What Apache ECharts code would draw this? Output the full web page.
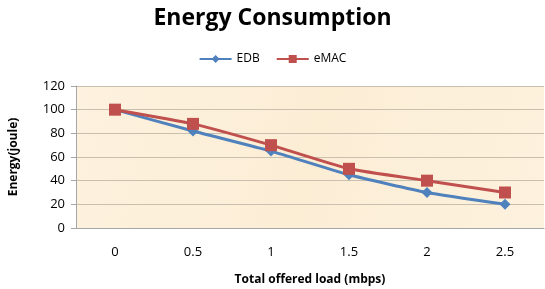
<!DOCTYPE html>
<html>
<head>
<meta charset="utf-8">
<script src="https://cdn.jsdelivr.net/npm/echarts@6/dist/echarts.min.js"></script>
<style>
html, body { margin: 0; padding: 0; background: #fff; }
#main { width: 545px; height: 289px; }
</style>
</head>
<body>
<div id="main"></div>
<script>
// categories and values
var loads = ['0', '0.5', '1', '1.5', '2', '2.5'];
var edb = [100, 82, 65, 45, 30, 20];
var emac = [100, 88, 70, 50, 40, 30];

var font = '"Open Sans", "Liberation Sans", sans-serif';
var myChart = echarts.init(document.getElementById('main'));
var option = {
	backgroundColor: '#fff',
	animation: false,
	title: {
		text: 'Energy Consumption',
		left: 'center',
		top: 2,
		textStyle: { fontFamily: font, fontSize: 23, fontWeight: 'bold', color: '#000' }
	},
	legend: {
		data: ['EDB', 'eMAC'],
		top: 48,
		left: 'center',
		itemWidth: 32,
		itemHeight: 10,
		itemGap: 16,
		textStyle: { fontFamily: font, fontSize: 12, color: '#000' }
	},
	grid: {
		left: 76, right: 1, top: 86, bottom: 61,
		show: true,
		borderWidth: 0,
		backgroundColor: new echarts.graphic.LinearGradient(0, 0, 1, 1, [
			{ offset: 0, color: '#fdf2df' },
			{ offset: 0.5, color: '#fcedd5' },
			{ offset: 1, color: '#fdf2de' }
		])
	},
	xAxis: {
		type: 'category',
		data: loads,
		name: 'Total offered load (mbps)',
		nameLocation: 'middle',
		nameGap: 46,
		nameTextStyle: { fontFamily: font, fontSize: 12, fontWeight: 'bold', color: '#000' },
		axisLine: { lineStyle: { color: '#a6a6a6' } },
		axisTick: { length: 5, lineStyle: { color: '#a6a6a6' } },
		axisLabel: { fontFamily: font, fontSize: 13, color: '#000', margin: 18 }
	},
	yAxis: {
		type: 'value',
		min: 0, max: 120, interval: 20,
		name: 'Energy(joule)',
		nameLocation: 'middle',
		nameGap: 56,
		nameTextStyle: { fontFamily: font, fontSize: 12, fontWeight: 'bold', color: '#000' },
		axisLine: { show: true, lineStyle: { color: '#a6a6a6' } },
		axisTick: { show: true, length: 5, lineStyle: { color: '#a6a6a6' } },
		axisLabel: { fontFamily: font, fontSize: 13, color: '#000', margin: 11 },
		splitLine: { lineStyle: { color: '#c8bfae' } }
	},
	series: [{
		name: 'EDB',
		type: 'line',
		data: edb,
		symbol: 'diamond',
		symbolSize: 11,
		smooth: 0.15,
		color: '#4f81bd',
		lineStyle: { width: 3 }
	}, {
		name: 'eMAC',
		type: 'line',
		data: emac,
		symbol: 'rect',
		symbolSize: 12,
		smooth: 0.15,
		color: '#c0504d',
		lineStyle: { width: 3 }
	}]
};
myChart.setOption(option);
</script>
</body>
</html>
